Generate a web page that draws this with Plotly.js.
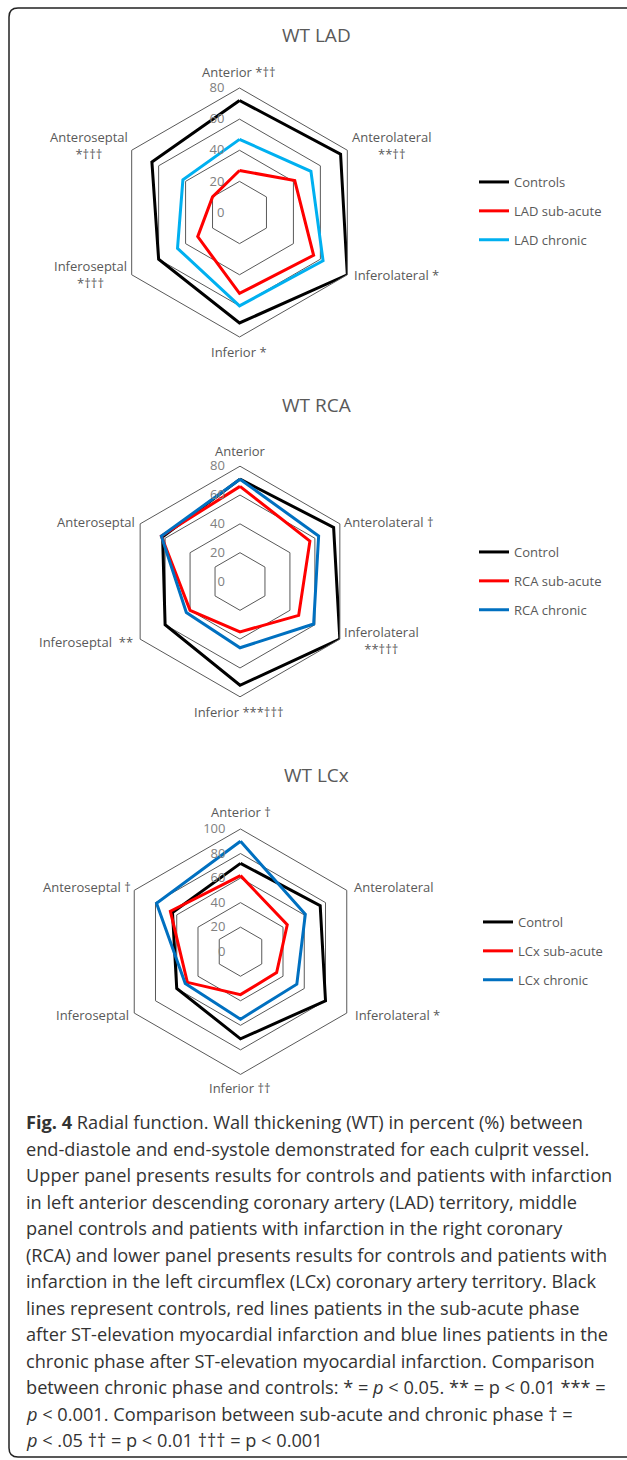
<!DOCTYPE html>
<html><head><meta charset="utf-8">
<script src="https://cdn.plot.ly/plotly-3.0.1.min.js"></script>
<style>html,body{margin:0;padding:0;background:#fff}#chart{width:627px;height:1460px}</style>
</head><body><div id="chart"></div>
<script>
// ---- data ----
const segments = ["Anterior","Anterolateral","Inferolateral","Inferior","Inferoseptal","Anteroseptal"];

const ladNames = ["Controls","LAD sub-acute","LAD chronic"];
const ladControls = [72,75,80,71,60,65];
const ladSubacute = [27,41,55,52,31,20];
const ladChronic  = [47,53,62,60,46,42];

const rcaNames = ["Control","RCA sub-acute","RCA chronic"];
const rcaControl  = [71,75,80,72,60,62];
const rcaSubacute = [66,56,47,35,40,63];
const rcaChronic  = [71,63,59,46,43,63];

const lcxNames = ["Control","LCx sub-acute","LCx chronic"];
const lcxControl  = [72,75,80,71,60,64];
const lcxSubacute = [62,44,34,35,50,66];
const lcxChronic  = [90,61,53,55,52,79];

const ladLabels = ["Anterior *††","Anterolateral<br>**††","Inferolateral *","Inferior *","Inferoseptal<br>*†††","Anteroseptal<br>*†††"];
const rcaLabels = ["Anterior","Anterolateral †","Inferolateral<br>**†††","Inferior ***†††","Inferoseptal  **","Anteroseptal"];
const lcxLabels = ["Anterior †","Anterolateral","Inferolateral *","Inferior ††","Inferoseptal","Anteroseptal †"];

const ladTicks = [0,20,40,60,80];
const lcxTicks = [0,20,40,60,80,100];

const titles = ["WT LAD","WT RCA","WT LCx"];

const captionLines = [
 "<b>Fig. 4</b> Radial function. Wall thickening (WT) in percent (%) between",
 "end-diastole and end-systole demonstrated for each culprit vessel.",
 "Upper panel presents results for controls and patients with infarction",
 "in left anterior descending coronary artery (LAD) territory, middle",
 "panel controls and patients with infarction in the right coronary",
 "(RCA) and lower panel presents results for controls and patients with",
 "infarction in the left circumflex (LCx) coronary artery territory. Black",
 "lines represent controls, red lines patients in the sub-acute phase",
 "after ST-elevation myocardial infarction and blue lines patients in the",
 "chronic phase after ST-elevation myocardial infarction. Comparison",
 "between chronic phase and controls: * = <i>p</i> &lt; 0.05. ** = p &lt; 0.01 *** =",
 "<i>p</i> &lt; 0.001. Comparison between sub-acute and chronic phase † =",
 "<i>p</i> &lt; .05 †† = p &lt; 0.01 ††† = p &lt; 0.001"
];

// ---- layout helpers ----
const W = 627, H = 1460;
const px = x => x / W;
const py = y => 1 - y / H;
const GRAY = "#595959";
const FONT = "'Open Sans', 'Noto Sans', sans-serif";

function dom(cx, cy, R){ return {x:[px(cx-R), px(cx+R)], y:[py(cy+R), py(cy-R)]}; }

function polarCfg(cx, cy, R, ticks){
  return {
    domain: dom(cx, cy, R),
    gridshape: "linear",
    bgcolor: "#fff",
    radialaxis: {range:[ticks[0], ticks[ticks.length-1]], tickvals: ticks, angle: 90, side: "counterclockwise",
      tickangle: 90, showline: false, ticks: "outside", ticklen: 10, tickcolor: "rgba(0,0,0,0)",
      gridcolor: GRAY, gridwidth: 1,
      tickfont: {family: FONT, size: 13, color: "#808080"}},
    angularaxis: {type: "category", categoryarray: segments, direction: "clockwise", rotation: 90,
      showgrid: false, showline: true, linecolor: GRAY, linewidth: 1, ticks: "", showticklabels: false}
  };
}

const close = a => a.concat([a[0]]);
const thetaClosed = close(segments);

function tr(r, name, color, sub, leg, grp){
  return {type: "scatterpolar", mode: "lines", r: close(r), theta: thetaClosed, name: name,
    subplot: sub, legend: leg, legendgroup: grp, line: {color: color, width: 3}, hoverinfo: "skip"};
}

const data = [
  tr(ladControls, ladNames[0], "#000000", "polar", "legend", "a1"),
  tr(ladSubacute, ladNames[1], "#ff0000", "polar", "legend", "a2"),
  tr(ladChronic,  ladNames[2], "#00b0f0", "polar", "legend", "a3"),
  tr(rcaControl,  rcaNames[0], "#000000", "polar2", "legend2", "b1"),
  tr(rcaSubacute, rcaNames[1], "#ff0000", "polar2", "legend2", "b2"),
  tr(rcaChronic,  rcaNames[2], "#0070c0", "polar2", "legend2", "b3"),
  tr(lcxControl,  lcxNames[0], "#000000", "polar3", "legend3", "c1"),
  tr(lcxSubacute, lcxNames[1], "#ff0000", "polar3", "legend3", "c2"),
  tr(lcxChronic,  lcxNames[2], "#0070c0", "polar3", "legend3", "c3")
];

function legCfg(x, y){
  return {x: px(x), y: py(y), xanchor: "left", yanchor: "middle", bgcolor: "rgba(0,0,0,0)",
    font: {family: FONT, size: 13, color: GRAY}, tracegroupgap: 9, itemclick: false};
}

const annotations = [];
function lab(text, x, y, xanchor){
  annotations.push({text: text, x: px(x), y: py(y), xref: "paper", yref: "paper", xanchor: xanchor, yanchor: "middle",
    align: "center", showarrow: false, font: {family: FONT, size: 13, color: GRAY}});
}
// LAD labels
lab(ladLabels[0], 239, 72, "center");
lab(ladLabels[1], 350, 146, "left");
lab(ladLabels[2], 352, 275, "left");
lab(ladLabels[3], 239, 352, "center");
lab(ladLabels[4], 129, 275, "right");
lab(ladLabels[5], 130, 146, "right");
// RCA labels
lab(rcaLabels[0], 240, 451, "center");
lab(rcaLabels[1], 342, 522, "left");
lab(rcaLabels[2], 342, 640, "left");
lab(rcaLabels[3], 239, 712, "center");
lab(rcaLabels[4], 135, 642, "right");
lab(rcaLabels[5], 137, 522, "right");
// LCx labels
lab(lcxLabels[0], 241, 812, "center");
lab(lcxLabels[1], 352, 887, "left");
lab(lcxLabels[2], 353, 1015, "left");
lab(lcxLabels[3], 240, 1088, "center");
lab(lcxLabels[4], 131, 1015, "right");
lab(lcxLabels[5], 133, 887, "right");

[[titles[0],35],[titles[1],405],[titles[2],775]].forEach(([t,y]) => {
  annotations.push({text: t, x: px(316), y: py(y), xref: "paper", yref: "paper", xanchor: "center", yanchor: "middle",
    showarrow: false, font: {family: FONT, size: 19, color: GRAY}});
});

captionLines.forEach((t, i) => {
  annotations.push({text: t, x: px(24), y: py(1122 + i * 26.5), xref: "paper", yref: "paper", xanchor: "left", yanchor: "middle",
    align: "left", showarrow: false, font: {family: FONT, size: 18.2, color: "#333333"}});
});

// frame (rounded corners on the left)
const fx0 = 9, fy0 = 8, fx1 = 640, fy1 = 1457, rr = 9;
const framePath = [
  `M ${px(fx1)} ${py(fy0)}`,
  `L ${px(fx0+rr)} ${py(fy0)}`,
  `Q ${px(fx0)} ${py(fy0)} ${px(fx0)} ${py(fy0+rr)}`,
  `L ${px(fx0)} ${py(fy1-rr)}`,
  `Q ${px(fx0)} ${py(fy1)} ${px(fx0+rr)} ${py(fy1)}`,
  `L ${px(fx1)} ${py(fy1)}`
].join(" ");

const layout = {
  width: W, height: H,
  margin: {l: 0, r: 0, t: 0, b: 0},
  paper_bgcolor: "#fff",
  showlegend: true,
  font: {family: FONT, color: GRAY},
  polar:  polarCfg(239.5, 212.5, 124.5, ladTicks),
  polar2: polarCfg(240, 581.5, 115.3, ladTicks),
  polar3: polarCfg(240.5, 951.7, 122.7, lcxTicks),
  legend:  legCfg(474, 211),
  legend2: legCfg(474, 581),
  legend3: legCfg(478, 951),
  annotations: annotations,
  shapes: [{type: "path", path: framePath, xref: "paper", yref: "paper", line: {color: "#222", width: 1.5}}]
};

Plotly.newPlot("chart", data, layout, {staticPlot: true, displayModeBar: false});
</script>
</body></html>
